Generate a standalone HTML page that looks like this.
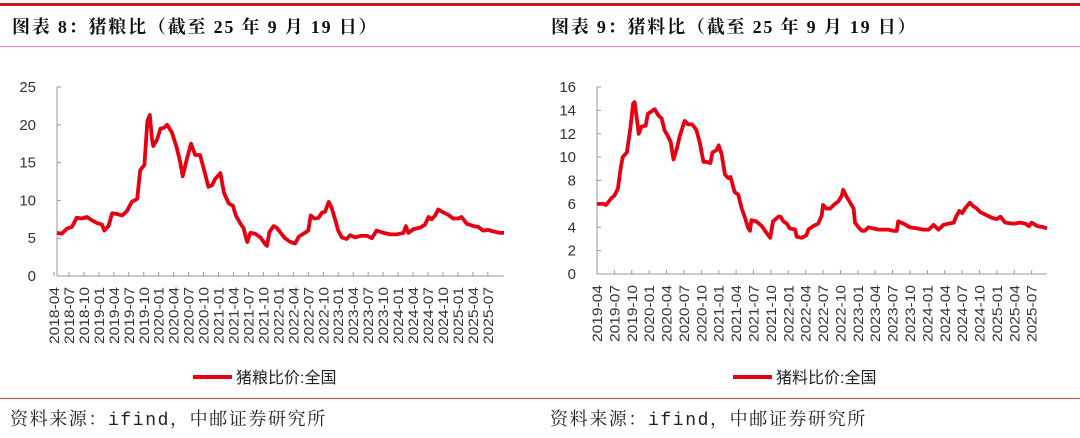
<!DOCTYPE html>
<html><head><meta charset="utf-8">
<style>
body{margin:0;width:1080px;height:438px;background:#fff;overflow:hidden;font-family:"Liberation Sans","Noto Sans CJK SC",sans-serif}
svg{position:absolute;left:0;top:0}
</style></head><body>
<svg width="1080" height="438" id="root">
<rect x="0" y="3" width="1080" height="3" fill="#c8161d"/>
<rect x="0" y="46" width="1080" height="1" fill="#e88a8e"/>
<rect x="0" y="398" width="1080" height="1" fill="#d84a4f"/>
<text x="12" y="33" font-family="'Liberation Serif','Noto Serif CJK SC',serif" font-weight="bold" font-size="18" letter-spacing="1.8" fill="#111">图表 8：猪粮比（截至 25 年 9 月 19 日）</text>
<text x="551" y="33" font-family="'Liberation Serif','Noto Serif CJK SC',serif" font-weight="bold" font-size="18" letter-spacing="1.8" fill="#111">图表 9：猪料比（截至 25 年 9 月 19 日）</text>
<text x="10" y="425" font-family="'Liberation Mono','Noto Serif CJK SC',serif" font-size="18" letter-spacing="1.6" fill="#222">资料来源：ifind，中邮证券研究所</text>
<text x="550" y="425" font-family="'Liberation Mono','Noto Serif CJK SC',serif" font-size="18" letter-spacing="1.6" fill="#222">资料来源：ifind，中邮证券研究所</text>
<g id="c1"></g>
<g id="c2"></g>
</svg>
<script>
const grainDates=[2018.25,2018.33,2018.42,2018.50,2018.58,2018.67,2018.75,2018.83,2018.92,2019.00,2019.04,2019.11,2019.17,2019.25,2019.34,2019.42,2019.50,2019.59,2019.64,2019.71,2019.76,2019.80,2019.84,2019.86,2019.92,2019.98,2020.04,2020.09,2020.17,2020.25,2020.31,2020.35,2020.42,2020.49,2020.56,2020.64,2020.71,2020.78,2020.84,2020.89,2020.98,2021.04,2021.12,2021.19,2021.24,2021.31,2021.37,2021.41,2021.43,2021.48,2021.56,2021.65,2021.73,2021.76,2021.80,2021.87,2021.92,2021.98,2022.06,2022.15,2022.23,2022.29,2022.37,2022.45,2022.49,2022.55,2022.62,2022.68,2022.73,2022.79,2022.84,2022.90,2022.95,2023.01,2023.09,2023.15,2023.23,2023.32,2023.43,2023.51,2023.59,2023.71,2023.82,2023.93,2024.04,2024.08,2024.12,2024.21,2024.32,2024.40,2024.46,2024.51,2024.57,2024.62,2024.71,2024.79,2024.87,2024.96,2025.01,2025.10,2025.21,2025.29,2025.37,2025.46,2025.54,2025.65,2025.72];
const grainValues=[5.7,5.6,6.3,6.5,7.7,7.6,7.8,7.4,7.0,6.8,6.0,6.6,8.3,8.2,8.0,8.6,9.8,10.2,14.0,14.7,20.5,21.3,18.0,17.2,18.0,19.5,19.6,20.0,19.0,17.0,15.0,13.2,15.5,17.5,16.0,16.0,14.0,11.8,12.0,12.8,13.6,11.0,9.6,9.3,8.0,7.0,6.3,5.0,4.5,5.7,5.6,5.1,4.2,4.0,5.8,6.6,6.4,5.8,5.0,4.5,4.3,5.2,5.6,6.0,8.0,7.6,7.7,8.4,8.5,9.8,9.0,7.4,6.0,5.1,4.9,5.4,5.1,5.3,5.3,5.0,6.0,5.7,5.5,5.5,5.7,6.6,5.7,6.2,6.4,6.8,7.8,7.5,8.0,8.8,8.4,8.1,7.6,7.6,7.8,6.9,6.6,6.5,6.0,6.1,5.9,5.7,5.7];
const grainTicks=[0,5,10,15,20,25];
const feedDates=[2019.25,2019.34,2019.38,2019.46,2019.50,2019.55,2019.59,2019.62,2019.68,2019.73,2019.77,2019.79,2019.83,2019.85,2019.89,2019.95,2019.98,2020.03,2020.08,2020.13,2020.18,2020.22,2020.27,2020.31,2020.35,2020.40,2020.44,2020.51,2020.56,2020.62,2020.68,2020.73,2020.78,2020.82,2020.88,2020.91,2020.97,2021.00,2021.04,2021.09,2021.14,2021.17,2021.23,2021.28,2021.33,2021.38,2021.42,2021.45,2021.47,2021.54,2021.62,2021.69,2021.74,2021.78,2021.86,2021.89,2021.93,2021.98,2022.02,2022.10,2022.12,2022.19,2022.26,2022.29,2022.36,2022.43,2022.48,2022.50,2022.55,2022.60,2022.67,2022.72,2022.77,2022.79,2022.84,2022.89,2022.94,2022.96,2023.01,2023.06,2023.10,2023.15,2023.22,2023.30,2023.37,2023.44,2023.51,2023.56,2023.58,2023.66,2023.75,2023.85,2023.94,2024.02,2024.09,2024.16,2024.23,2024.30,2024.38,2024.42,2024.46,2024.50,2024.54,2024.61,2024.66,2024.71,2024.76,2024.86,2024.93,2025.00,2025.05,2025.12,2025.24,2025.34,2025.41,2025.46,2025.50,2025.58,2025.67,2025.72];
const feedValues=[6.0,6.0,5.9,6.5,6.7,7.3,9.0,10.0,10.4,12.5,14.6,14.7,13.0,12.0,12.6,12.7,13.7,13.9,14.1,13.6,13.3,12.3,11.8,11.3,9.8,10.8,11.8,13.1,12.8,12.8,12.3,11.2,9.6,9.6,9.5,10.4,10.6,11.0,10.3,8.5,8.2,8.3,7.0,6.8,5.6,4.8,4.0,3.7,4.6,4.5,4.1,3.5,3.1,4.5,4.9,4.9,4.5,4.3,3.9,3.8,3.2,3.1,3.3,3.8,4.1,4.3,5.0,5.9,5.6,5.6,6.0,6.2,6.7,7.2,6.6,6.1,5.6,4.4,4.0,3.7,3.7,4.0,3.9,3.8,3.8,3.8,3.7,3.7,4.5,4.3,4.0,3.9,3.8,3.8,4.2,3.8,4.2,4.3,4.4,5.0,5.4,5.2,5.6,6.1,5.8,5.6,5.3,5.0,4.8,4.7,4.9,4.4,4.3,4.4,4.3,4.1,4.4,4.1,4.0,3.9];
const feedTicks=[0,2,4,6,8,10,12,14,16];

const NS='http://www.w3.org/2000/svg';
function mk(tag,attrs,parent){const e=document.createElementNS(NS,tag);for(const k in attrs)e.setAttribute(k,attrs[k]);parent.appendChild(e);return e;}

function draw(g,cfg){
  const {x0,x1,y0,y1,tStart,tEnd,vMax,dates,values,ticks,legend,legendX,lblStart,lblEnd,lblY,lblOff}=cfg;
  const xs=t=>x0+(t-tStart)/(tEnd-tStart)*(x1-x0);
  const ys=v=>y0-(v/vMax)*(y0-y1);
  const ax=mk('line',{x1:x0,y1:y1,x2:x0,y2:y0,stroke:'#999','stroke-width':1},g);
  
  
  const bx=mk('line',{x1:x0,y1:y0,x2:x1,y2:y0,stroke:'#999','stroke-width':1},g);
  
  
  ticks.forEach(v=>{
    const y=ys(v);
    const tk=mk('line',{x1:x0,y1:y,x2:x0+4,y2:y,stroke:'#999'},g);
    
    
    const t=mk('text',{x:x0-21,y:y+5,'text-anchor':'end','font-size':15,fill:'#333'},g);
    t.textContent=v;
    
    
  });
  for(let yr=lblStart[0],m=lblStart[1];yr<lblEnd[0]||(yr===lblEnd[0]&&m<=lblEnd[1]);){
    const t=yr+(m-1)/12;
    const x=xs(t)+lblOff;
    const tk=mk('line',{x1:x,y1:y0,x2:x,y2:y0-4,stroke:'#999'},g);
    
    
    const lab=mk('text',{x:0,y:0,'text-anchor':'end','font-size':14,textLength:57,lengthAdjust:'spacingAndGlyphs',fill:'#333',transform:`translate(${x+5},${lblY}) rotate(-90)`},g);
    lab.textContent=yr+'-'+String(m).padStart(2,'0');
    
    
    m+=3;if(m>12){m-=12;yr++;}
  }
  const d=dates.map((t,i)=>(i?'L':'M')+xs(t).toFixed(1)+' '+ys(values[i]).toFixed(1)).join(' ');
  const p=mk('path',{d:d,fill:'none',stroke:'#e60012','stroke-width':3.8,'stroke-linejoin':'round'},g);
  
  
  const lg=mk('line',{x1:legendX,y1:377,x2:legendX+39,y2:377,stroke:'#e60012','stroke-width':4},g);
  
  
  const lt=mk('text',{x:legendX+43,y:383,'font-size':16,fill:'#222'},g);
  lt.textContent=legend;
  
  
}
draw(document.getElementById('c1'),{x0:57,x1:504,y0:276,y1:87,tStart:2018.25,tEnd:2025.72,vMax:25,dates:grainDates,values:grainValues,ticks:grainTicks,legend:'猪粮比价:全国',legendX:193,lblStart:[2018,4],lblEnd:[2025,7],lblY:287,lblOff:-3});
draw(document.getElementById('c2'),{x0:597,x1:1047,y0:274,y1:87,tStart:2019.25,tEnd:2025.72,vMax:16,dates:feedDates,values:feedValues,ticks:feedTicks,legend:'猪料比价:全国',legendX:733,lblStart:[2019,4],lblEnd:[2025,7],lblY:285,lblOff:0});
</script>
</body></html>
